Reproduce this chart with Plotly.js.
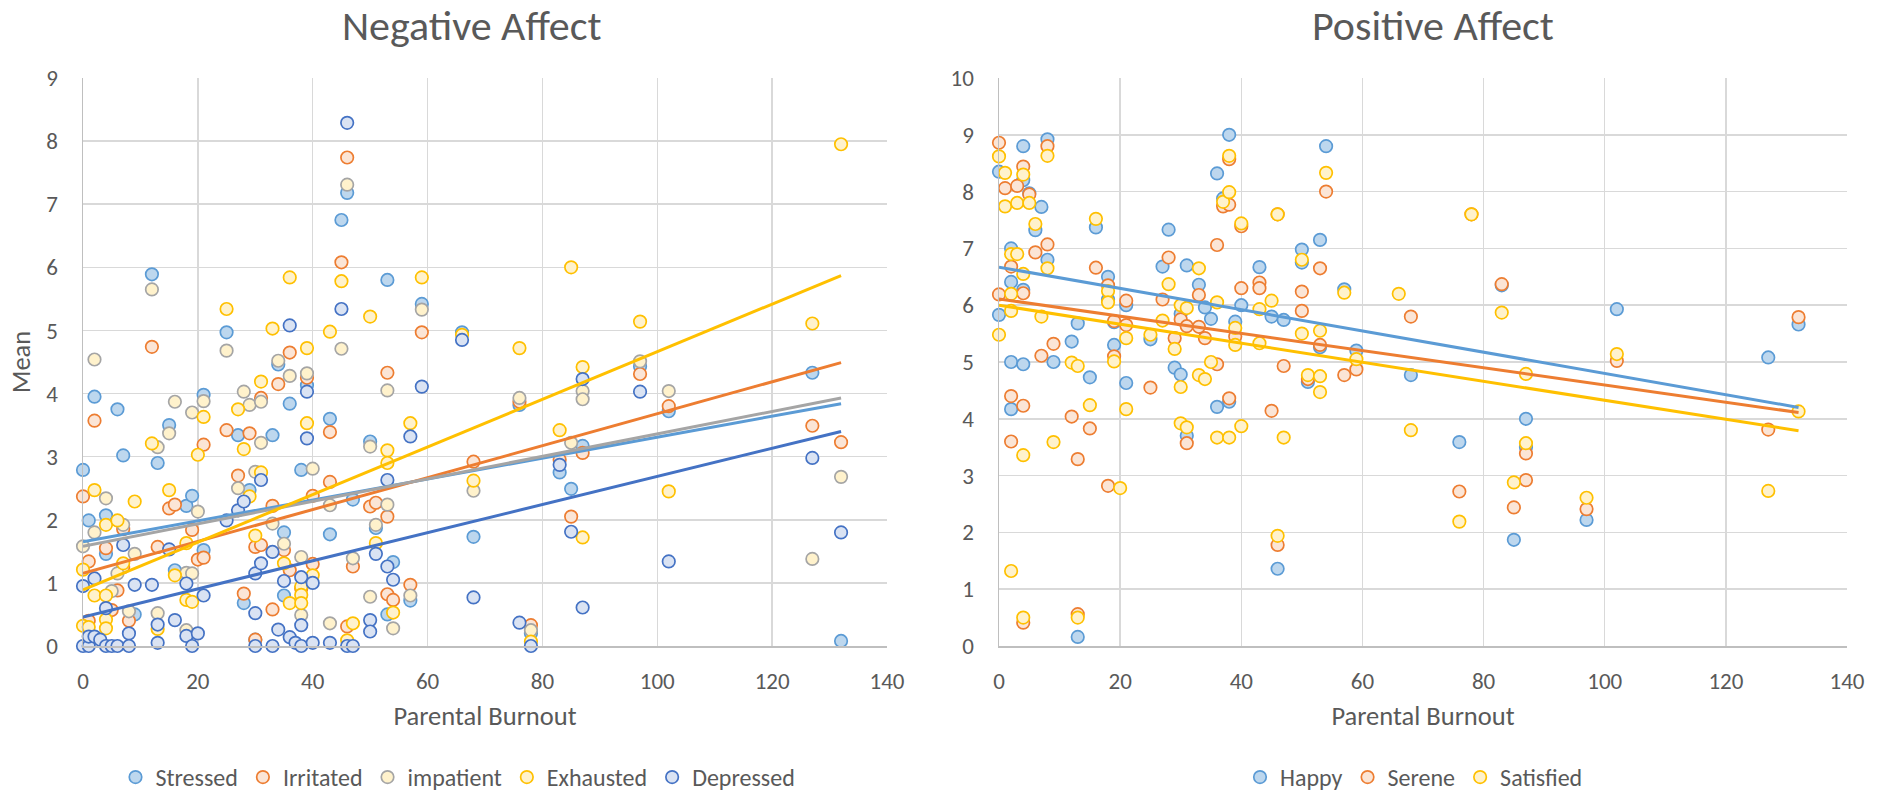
<!DOCTYPE html>
<html>
<head>
<meta charset="utf-8">
<script src="https://cdn.plot.ly/plotly-3.0.1.min.js"></script>
<style>html,body{margin:0;padding:0;background:#fff;}#chart{width:1880px;height:800px;}</style>
</head>
<body>
<div id="chart"></div>
<script>
// ---------- Negative Affect ----------
const stressedX = [0,1,2,4,4,6,7,9,12,13,15,16,18,19,21,21,25,27,28,29,30,33,34,35,35,36,38,39,43,43,45,46,47,50,51,53,53,54,57,59,66,68,76,78,83,85,87,97,102,127,132];
const stressedY = [2.79,1.99,3.95,2.07,1.46,3.75,3.02,0.5,5.89,2.9,3.5,1.2,2.22,2.38,3.98,1.52,4.97,3.34,0.68,2.47,0.1,3.34,4.46,1.8,0.8,3.84,2.79,4.13,3.6,1.77,6.75,7.18,2.32,3.24,1.87,5.8,0.5,1.33,0.72,5.42,4.97,1.73,3.82,0.2,2.75,2.49,3.17,4.43,3.72,4.33,0.08];

const irritatedX = [0,1,1,2,4,5,6,7,7,8,12,13,15,16,19,20,21,21,25,27,28,29,30,30,31,31,33,33,34,35,36,36,38,39,40,40,43,43,45,46,46,47,50,51,53,53,53,54,57,59,68,76,78,83,85,87,97,102,127,132];
const irritatedY = [2.37,1.34,0.4,3.57,1.55,0.57,0.88,1.25,1.85,0.4,4.74,1.57,2.18,2.24,1.84,1.37,1.4,3.19,3.42,2.7,0.83,3.37,1.57,0.1,3.93,1.6,2.22,0.58,4.15,1.52,4.65,1.2,0.91,4.25,2.38,1.3,3.39,2.6,6.08,7.74,0.31,1.26,2.21,2.27,4.33,2.05,0.82,0.73,0.97,4.97,2.92,3.87,0.33,2.95,2.05,3.06,4.31,3.8,3.49,3.23];

const impatientX = [0,2,2,4,5,6,7,8,9,12,13,13,15,16,18,18,19,19,20,21,25,27,28,29,30,31,31,33,34,35,36,38,38,39,40,43,43,45,46,47,50,50,51,53,53,54,57,59,68,76,78,85,87,87,97,102,127,132];
const impatientY = [1.58,4.54,1.8,2.34,0.87,1.15,1.92,0.55,1.46,5.65,3.15,0.52,3.37,3.87,0.25,1.16,3.7,1.15,2.13,3.88,4.68,2.5,4.03,3.82,2.76,3.87,3.22,1.94,4.52,1.62,4.28,1.41,0.49,4.32,2.81,2.23,0.36,4.71,7.31,1.39,3.16,0.78,1.92,4.05,2.24,0.28,0.8,5.33,2.46,3.93,0.25,3.22,4.04,3.91,4.51,4.04,1.38,2.68];

const exhaustedX = [0,0,1,2,2,4,4,4,4,6,7,9,12,13,15,16,18,18,19,20,21,25,27,28,29,30,31,31,33,35,36,36,38,38,38,39,39,40,43,45,46,47,50,51,53,53,54,57,59,66,68,76,78,83,85,87,87,97,102,127,132];
const exhaustedY = [1.21,0.32,0.3,2.47,0.8,1.92,0.8,0.42,0.28,1.99,1.31,2.29,3.21,0.27,2.47,1.12,1.63,0.73,0.7,3.03,3.63,5.34,3.75,3.12,2.37,1.75,4.19,2.75,5.03,1.31,5.84,0.68,0.94,0.81,0.68,4.72,3.53,1.12,4.98,5.78,0.09,0.36,5.22,1.63,3.1,2.9,0.53,3.53,5.84,4.93,2.62,4.72,0.07,3.42,6.0,4.42,1.72,5.14,2.45,5.11,7.95];

const depressedX = [0,0,1,1,2,2,3,4,4,5,6,7,8,8,9,12,13,13,15,16,18,18,19,20,21,25,27,28,30,30,30,31,31,33,33,34,35,36,36,37,38,38,38,39,39,40,40,43,45,46,46,47,50,50,51,53,53,54,57,59,66,68,76,78,83,85,87,87,97,102,127,132];
const depressedY = [0.95,0,0,0.15,1.07,0.15,0.1,0.6,0,0,0,1.6,0.2,0,0.97,0.97,0.34,0.05,1.53,0.41,0.99,0.16,0,0.2,0.8,1.99,2.15,2.29,1.15,0.52,0,2.63,1.31,1.49,0,0.26,1.03,5.08,0.14,0.05,1.09,0.33,0,4.03,3.29,1.0,0.05,0.05,5.34,8.29,0,0,0.41,0.23,1.46,2.63,1.26,1.05,3.32,4.11,4.85,0.77,0.37,0,2.87,1.81,4.23,0.61,4.03,1.34,2.98,1.8];

// Linear trendlines: value at lowest and at highest Parental Burnout
const negTrendStart = [1.65, 1.15, 1.58, 0.89, 0.46];
const negTrendEnd   = [3.84, 4.49, 3.93, 5.87, 3.40];

// ---------- Positive Affect ----------
const happyX = [0,0,2,2,2,2,4,4,4,4,5,6,7,8,8,9,12,13,13,15,16,18,18,19,19,21,21,25,27,28,29,30,30,31,31,33,34,35,36,36,37,38,38,39,40,43,45,46,47,50,50,51,53,53,54,57,59,68,76,83,85,87,87,97,102,127,132];
const happyY = [8.35,5.83,7.0,6.41,5.0,4.17,8.8,8.2,6.27,4.96,7.97,7.32,7.73,8.92,6.8,5.0,5.36,5.68,0.16,4.73,7.37,6.5,6.1,5.3,5.7,6.0,4.63,5.4,6.68,7.33,4.9,4.78,5.85,6.7,3.7,6.36,5.96,5.76,8.32,4.21,7.88,9.0,4.3,5.71,6.0,6.67,5.8,1.36,5.74,6.98,6.75,4.65,7.15,5.26,8.8,6.28,5.2,4.77,3.59,6.35,1.87,4.0,3.5,2.22,5.93,5.08,5.66];

const sereneX = [0,0,1,2,2,2,3,4,4,4,4,5,6,7,8,8,9,12,13,13,15,16,18,18,19,19,21,21,25,27,28,29,30,31,31,33,33,34,36,36,37,38,38,38,39,40,40,43,43,45,46,46,47,50,50,51,53,53,54,57,59,68,76,78,83,85,87,87,97,102,127,132];
const sereneY = [8.86,6.19,8.06,6.68,4.4,3.6,8.1,8.44,6.21,4.23,0.41,7.95,6.93,5.11,8.8,7.07,5.32,4.04,3.29,0.56,3.83,6.66,6.35,2.82,5.1,5.72,6.08,5.65,4.55,6.1,6.84,5.42,5.75,5.63,3.57,6.18,5.62,5.42,7.06,4.96,7.74,8.57,7.77,4.36,5.45,7.39,6.3,6.4,6.3,4.14,7.6,1.78,4.93,6.24,5.9,4.7,6.65,5.3,8.0,4.77,4.87,5.8,2.72,7.6,6.37,2.44,3.39,2.92,2.41,5.02,3.81,5.79];

const satisfiedX = [0,0,1,1,2,2,2,2,3,3,4,4,4,4,5,6,7,8,8,9,12,13,13,15,16,18,18,19,20,21,21,25,27,28,29,30,30,30,31,31,33,33,34,35,36,36,37,38,38,38,39,39,40,40,43,43,45,46,46,47,50,50,51,53,53,53,54,57,59,66,68,76,78,83,85,87,87,97,102,127,132];
const satisfiedY = [8.62,5.48,8.33,7.74,6.9,6.2,5.9,1.32,6.9,7.8,8.3,6.55,3.36,0.5,7.8,7.43,5.8,8.63,6.65,3.59,4.99,4.93,0.5,4.24,7.52,6.25,6.05,5.01,2.78,5.42,4.17,5.48,5.73,6.37,5.23,6.0,4.56,3.92,5.95,3.85,6.65,4.77,4.7,5.0,6.05,3.67,7.82,8.63,7.99,3.67,5.6,5.3,7.44,3.87,5.93,5.33,6.08,7.6,1.94,3.67,6.8,5.5,4.77,5.55,4.75,4.47,8.33,6.22,5.05,6.2,3.8,2.19,7.6,5.87,2.88,4.79,3.57,2.61,5.14,2.73,4.13];

const posTrendStart = [6.67, 6.11, 6.0];
const posTrendEnd   = [4.20, 4.11, 3.79];

const negNames = ['Stressed','Irritated','impatient','Exhausted','Depressed'];
const posNames = ['Happy','Serene','Satisfied'];
const xTicks = [0,20,40,60,80,100,120,140];
const negYTicks = [0,1,2,3,4,5,6,7,8,9];
const posYTicks = [0,1,2,3,4,5,6,7,8,9,10];

// ---------- styling ----------
const negStyle = [
  {fill:'#BDD7EE', line:'#5B9BD5'},
  {fill:'#FBE5D6', line:'#ED7D31'},
  {fill:'#FFF2CC', line:'#A5A5A5'},
  {fill:'#FFF2CC', line:'#FFC000'},
  {fill:'#DAE3F3', line:'#4472C4'}
];
const posStyle = [
  {fill:'#BDD7EE', line:'#5B9BD5'},
  {fill:'#FBE5D6', line:'#ED7D31'},
  {fill:'#FFF2CC', line:'#FFC000'}
];

const negData = [[stressedX,stressedY],[irritatedX,irritatedY],[impatientX,impatientY],[exhaustedX,exhaustedY],[depressedX,depressedY]];
const posData = [[happyX,happyY],[sereneX,sereneY],[satisfiedX,satisfiedY]];

const traces = [];
negData.forEach((d,i)=>{
  traces.push({type:'scatter', mode:'markers', x:d[0], y:d[1], name:negNames[i], xaxis:'x', yaxis:'y',
    legend:'legend', cliponaxis:false,
    marker:{symbol:'circle', size:12.5, color:negStyle[i].fill, line:{color:negStyle[i].line, width:1.7}}});
});
posData.forEach((d,i)=>{
  traces.push({type:'scatter', mode:'markers', x:d[0], y:d[1], name:posNames[i], xaxis:'x2', yaxis:'y2',
    legend:'legend2', cliponaxis:false,
    marker:{symbol:'circle', size:12.5, color:posStyle[i].fill, line:{color:posStyle[i].line, width:1.7}}});
});
negData.forEach((d,i)=>{
  traces.push({type:'scatter', mode:'lines', x:[Math.min(...d[0]), Math.max(...d[0])], y:[negTrendStart[i], negTrendEnd[i]],
    xaxis:'x', yaxis:'y', showlegend:false, hoverinfo:'skip', line:{color:negStyle[i].line, width:3}});
});
posData.forEach((d,i)=>{
  traces.push({type:'scatter', mode:'lines', x:[Math.min(...d[0]), Math.max(...d[0])], y:[posTrendStart[i], posTrendEnd[i]],
    xaxis:'x2', yaxis:'y2', showlegend:false, hoverinfo:'skip', line:{color:posStyle[i].line, width:3}});
});

const FONT = "Carlito, Calibri, 'Open Sans', sans-serif";
const axisCommon = {
  showgrid:true, gridcolor:'#D9D9D9', gridwidth:1.5, zeroline:false,
  showline:true, linecolor:'#BFBFBF', linewidth:1.5, ticks:'',
  tickfont:{family:FONT, size:23, color:'#595959'}, fixedrange:true, automargin:false
};
const titleFont = {family:FONT, size:26.5, color:'#595959'};

const layout = {
  width:1880, height:800, paper_bgcolor:'#ffffff', plot_bgcolor:'#ffffff',
  margin:{l:0, r:0, t:0, b:0, autoexpand:false},
  font:{family:FONT, color:'#595959'},
  showlegend:true,
  xaxis: Object.assign({}, axisCommon, {domain:[83/1880, 887/1880], range:[0,140], tickvals:xTicks, ticklabelstandoff:14,
    title:{text:'Parental Burnout', font:titleFont, standoff:12}, anchor:'y'}),
  yaxis: Object.assign({}, axisCommon, {domain:[154/800, 722/800], range:[0,9], tickvals:negYTicks, ticklabelstandoff:19,
    title:{text:'Mean', font:titleFont, standoff:8}, anchor:'x'}),
  xaxis2: Object.assign({}, axisCommon, {domain:[999/1880, 1847/1880], range:[0,140], tickvals:xTicks, ticklabelstandoff:14,
    title:{text:'Parental Burnout', font:titleFont, standoff:12}, anchor:'y2'}),
  yaxis2: Object.assign({}, axisCommon, {domain:[154/800, 722/800], range:[0,10], tickvals:posYTicks, ticklabelstandoff:19, anchor:'x2'}),
  legend: {orientation:'h', x:458/1880, xanchor:'center', y:0, yanchor:'bottom',
    font:{family:FONT, size:24, color:'#595959'}, itemclick:false, itemdoubleclick:false},
  legend2: {orientation:'h', x:1414/1880, xanchor:'center', y:0, yanchor:'bottom',
    font:{family:FONT, size:24, color:'#595959'}, itemclick:false, itemdoubleclick:false},
  annotations:[
    {text:'Negative Affect', xref:'paper', yref:'paper', x:472/1880, y:775/800, xanchor:'center', yanchor:'middle', showarrow:false,
      font:{family:FONT, size:42, color:'#595959'}},
    {text:'Positive Affect', xref:'paper', yref:'paper', x:1433/1880, y:775/800, xanchor:'center', yanchor:'middle', showarrow:false,
      font:{family:FONT, size:42, color:'#595959'}}
  ]
};

Plotly.newPlot('chart', traces, layout, {displayModeBar:false, staticPlot:true});
</script>
</body>
</html>
